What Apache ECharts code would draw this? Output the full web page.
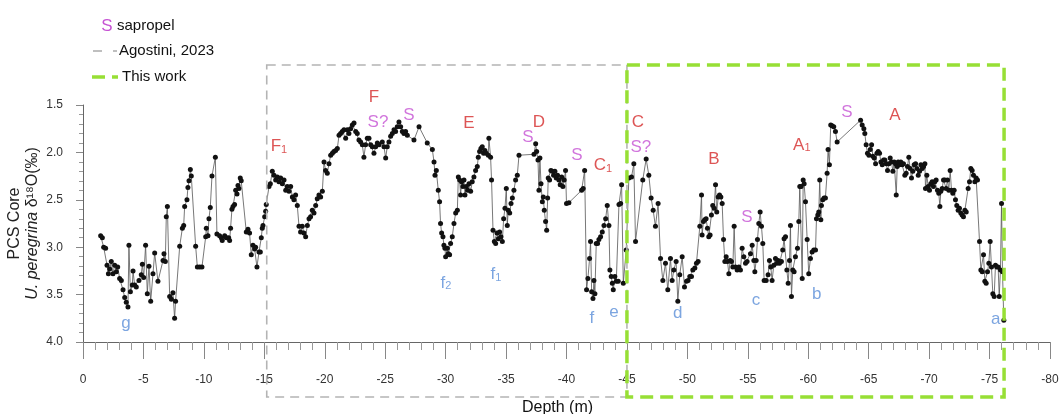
<!DOCTYPE html>
<html>
<head>
    <meta charset="utf-8">
    <title>PCS Core U. peregrina d18O</title>
    <script src="https://cdn.jsdelivr.net/npm/echarts@6/dist/echarts.min.js"></script>
    <style>
        html, body { margin: 0; padding: 0; background: #fff; }
        #main { width: 1061px; height: 414px; }
    </style>
</head>
<body>
<div id="main"></div>
<script>
    // depth (m, negative downwards) and d18O (permil)
    var depth = [
        -1.46, -1.60, -1.71, -1.87, -1.99, -2.10, -2.21, -2.34, -2.48, -2.62, -2.76, -2.87, -3.03, -3.17, -3.31, -3.45,
        -3.58, -3.72, -3.80, -3.92, -4.08, -4.14, -4.27, -4.41, -4.63, -4.82, -4.91, -5.02, -5.18, -5.32, -5.46, -5.60,
        -5.79, -5.93, -6.20, -6.62, -6.70, -6.81, -6.89, -6.98, -7.17, -7.31, -7.44, -7.58, -7.66, -8.00, -8.22, -8.33,
        -8.41, -8.60, -8.68, -8.77, -8.88, -8.96, -9.32, -9.46, -9.65, -9.84, -10.15, -10.20, -10.34, -10.42, -10.53, -10.67,
        -10.95, -11.08, -11.30, -11.44, -11.52, -11.72, -11.86, -12.05, -12.13, -12.21, -12.32, -12.41, -12.54, -12.63, -12.74, -12.82,
        -12.90, -13.01, -13.09, -13.51, -13.65, -13.78, -13.92, -14.06, -14.20, -14.28, -14.39, -14.56, -14.67, -14.75, -14.83, -14.89,
        -15.03, -15.11, -15.16,
        -15.39, -15.50, -15.66, -15.80, -15.94, -16.08, -16.21, -16.35, -16.49, -16.63, -16.77, -16.90, -17.04, -17.18, -17.32, -17.45,
        -17.59, -17.73, -17.87, -18.00, -18.14, -18.28, -18.42, -18.56, -18.70, -18.83, -18.97, -19.11, -19.25, -19.38, -19.52, -19.66,
        -19.80, -19.94, -20.07, -20.21, -20.35, -20.49, -20.63, -20.76, -20.90, -21.04, -21.18, -21.31, -21.45, -21.59, -21.73, -21.87,
        -22.00, -22.14, -22.28, -22.42, -22.56, -22.69, -22.83, -22.97, -23.11, -23.24, -23.38, -23.52, -23.66, -23.80, -23.93, -24.07,
        -24.21, -24.35, -24.49, -24.76, -24.90, -25.04, -25.17, -25.31, -25.45, -25.59, -25.73, -25.86, -26.00, -26.14, -26.28, -26.42,
        -26.55, -26.69, -26.83, -27.38, -27.80, -28.48, -28.90, -29.04, -29.12, -29.23, -29.39, -29.50, -29.58, -29.67, -29.78, -29.86,
        -29.94,
        -30.00, -30.14, -30.22, -30.33, -30.41, -30.55, -30.69, -30.83, -30.97, -31.05, -31.16, -31.24, -31.32, -31.43, -31.52, -31.60,
        -31.71, -31.82, -31.93, -32.07, -32.20, -32.34, -32.48, -32.62, -32.70, -32.81, -32.92, -33.03, -33.14, -33.25, -33.36, -33.53,
        -33.58, -33.72, -33.80, -33.92, -34.03, -34.14, -34.25, -34.36, -34.47, -34.58, -34.69, -34.80, -34.91, -35.02, -35.10, -35.18,
        -35.30, -35.41, -35.52, -35.65, -35.79, -35.93, -36.07, -37.31, -37.45, -37.53, -37.64, -37.72, -37.80, -37.89, -38.00, -38.08,
        -38.16, -38.27, -38.36, -38.44, -38.49, -38.60, -38.71, -38.82, -38.93, -39.04, -39.15, -39.26, -39.37, -39.48, -39.60, -39.70,
        -39.81, -39.92, -40.00, -40.20, -41.25, -41.38, -41.50, -41.66, -41.77, -41.91, -41.99, -42.08, -42.19, -42.27, -42.35, -42.46,
        -42.57, -42.68, -42.82, -42.96, -43.10, -43.24, -43.37, -43.51, -43.59, -43.70, -43.79, -43.87, -44.00, -44.12, -44.28, -44.34,
        -44.48, -44.56, -44.70,
        -44.94, -45.16, -45.38, -45.57, -45.71, -46.31, -46.59, -46.81, -47.00, -47.17, -47.36, -47.58, -47.78, -47.97, -48.19, -48.38,
        -48.60, -48.74, -48.88, -49.07, -49.21, -49.37, -49.57, -49.76, -49.93, -50.06, -50.20, -50.34, -50.45, -50.62, -50.75, -50.89,
        -51.03, -51.17, -51.22, -51.33, -51.44, -51.55, -51.66, -51.77, -51.88, -51.99, -52.10, -52.21, -52.33, -52.43, -52.55, -52.66,
        -52.77, -52.88, -52.99, -53.10, -53.21, -53.32, -53.43, -53.54, -53.65, -53.76, -53.87, -53.98, -54.12, -54.26, -54.39, -54.53,
        -54.67, -54.81, -54.94, -55.22, -55.36, -55.50, -55.58, -55.69, -55.80, -55.91, -56.02, -56.13, -56.24, -56.35, -56.52, -56.68,
        -56.79, -56.90, -57.01, -57.15, -57.29, -57.40, -57.51, -57.62, -57.78, -57.89, -58.00, -58.12, -58.23, -58.34, -58.45, -58.53,
        -58.61, -58.72, -58.83, -58.94, -59.11, -59.22, -59.30, -59.41, -59.50, -59.58, -59.66, -59.77, -59.91, -60.04, -60.18, -60.32,
        -60.46, -60.60, -60.68, -60.79, -60.87, -60.95, -61.04, -61.09, -61.20, -61.31, -61.42, -61.56, -61.64, -61.75, -61.86, -61.97,
        -62.11, -62.25, -62.39,
        -64.33, -64.46, -64.60, -64.68, -64.79, -64.90, -65.02, -65.13, -65.24, -65.35, -65.46, -65.57, -65.68, -65.79, -65.90, -66.01,
        -66.12, -66.23, -66.34, -66.45, -66.56, -66.67, -66.78, -66.89, -67.00, -67.11, -67.22, -67.28, -67.36, -67.44, -67.55, -67.66,
        -67.77, -67.88, -67.99, -68.10, -68.21, -68.32, -68.43, -68.54, -68.65, -68.76, -68.88, -68.99, -69.10, -69.21, -69.32, -69.43,
        -69.54, -69.65, -69.70, -69.81, -69.92, -70.03, -70.14, -70.25, -70.36, -70.47, -70.58, -70.69, -70.80, -70.89, -70.97, -71.08,
        -71.19, -71.30, -71.41, -71.52, -71.63, -71.74, -71.85, -71.96, -72.07, -72.18, -72.29, -72.40, -72.51, -72.62, -72.73, -72.84,
        -72.96, -73.07, -73.23, -73.34, -73.45, -73.56, -73.67, -73.78, -73.89, -74.00, -74.17, -74.28, -74.39, -74.50, -74.61, -74.72,
        -74.83, -74.94, -75.05, -75.16, -75.27, -75.38, -75.49, -75.60, -75.71, -75.80, -75.90, -75.99, -76.07, -76.18
    ];
    var d18O = [
        2.88, 2.90, 3.00, 3.01, 3.19, 3.28, 3.23, 3.15, 3.28, 3.19, 3.26, 3.21, 3.33, 3.35, 3.45, 3.53,
        3.58, 3.63, 2.98, 3.47, 3.40, 3.25, 3.40, 3.42, 3.35, 3.29, 3.18, 3.32, 2.98, 3.49, 3.20, 3.57,
        3.28, 3.06, 3.36, 3.14, 3.07, 3.15, 2.68, 2.57, 3.52, 3.55, 3.48, 3.75, 3.57, 2.99, 2.80, 2.77,
        2.57, 2.50, 2.37, 2.30, 2.18, 2.25, 2.99, 3.21, 3.21, 3.21, 2.89, 2.80, 2.88, 2.70, 2.58, 2.25,
        2.05, 2.86, 2.88, 2.90, 2.93, 2.88, 2.90, 2.90, 2.93, 2.80, 2.60, 2.57, 2.55, 2.40, 2.44, 2.35,
        2.38, 2.27, 2.30, 2.84, 2.81, 2.85, 3.08, 2.98, 3.02, 3.00, 3.21, 3.05, 3.05, 2.90, 2.80, 2.77,
        2.68, 2.62, 2.55,
        2.36, 2.33, 2.20, 2.24, 2.29, 2.26, 2.31, 2.27, 2.33, 2.29, 2.40, 2.36, 2.41, 2.36, 2.47, 2.50,
        2.45, 2.56, 2.78, 2.84, 2.78, 2.85, 2.89, 2.77, 2.70, 2.68, 2.61, 2.64, 2.56, 2.49, 2.45, 2.47,
        2.41, 2.10, 2.19, 2.22, 2.12, 2.03, 2.01, 1.99, 1.98, 1.96, 1.82, 1.80, 1.78, 1.76, 1.85, 1.76,
        1.80, 1.75, 1.71, 1.69, 1.78, 1.80, 1.87, 1.89, 1.92, 2.05, 1.92, 1.85, 1.85, 1.92, 1.94, 2.01,
        1.94, 1.90, 1.92, 1.89, 1.94, 2.06, 1.94, 1.89, 1.83, 1.80, 1.76, 1.78, 1.73, 1.68, 1.73, 1.78,
        1.80, 1.78, 1.82, 1.87, 1.73, 1.90, 1.97, 2.10, 2.24, 2.19, 2.40, 2.52, 2.75, 2.85, 2.89, 2.98,
        3.01,
        3.10, 3.01, 3.07, 3.08, 2.96, 2.89, 2.75, 2.64, 2.61, 2.26, 2.29, 2.45, 2.31, 2.36, 2.29, 2.45,
        2.36, 2.40, 2.33, 2.41, 2.31, 2.26, 2.19, 2.15, 2.05, 1.99, 1.96, 1.94, 2.01, 1.98, 2.01, 2.03,
        1.85, 2.05, 2.29, 2.82, 2.94, 2.96, 2.85, 2.91, 2.84, 2.89, 2.94, 2.70, 2.59, 2.38, 2.77, 2.61,
        2.64, 2.54, 2.48, 2.40, 2.29, 2.24, 2.03, 2.02, 1.91, 1.99, 2.08, 2.40, 2.06, 2.33, 2.52, 2.47,
        2.61, 2.73, 2.82, 2.48, 2.27, 2.29, 2.19, 2.20, 2.24, 2.20, 2.27, 2.24, 2.29, 2.34, 2.26, 2.36,
        2.29, 2.19, 2.54, 2.53, 2.40, 2.38, 2.19, 3.45, 3.33, 3.12, 2.94, 3.47, 3.54, 3.35, 3.49, 2.96,
        2.96, 2.92, 2.89, 2.84, 2.77, 2.70, 2.56, 2.77, 3.24, 3.31, 3.38, 3.45, 3.31, 3.36, 3.36, 2.55,
        2.54, 2.34, 3.38,
        3.03, 2.27, 2.26, 2.12, 2.94, 2.29, 2.07, 2.24, 2.48, 2.61, 2.78, 2.54, 3.12, 3.35, 3.17, 3.45,
        3.12, 3.35, 3.24, 3.15, 3.57, 3.29, 3.10, 3.42, 3.36, 3.35, 3.31, 3.31, 3.24, 3.22, 3.17, 3.15,
        2.78, 2.45, 2.87, 2.73, 2.71, 2.70, 2.80, 2.89, 2.87, 2.66, 2.56, 2.59, 2.34, 2.63, 2.47, 2.45,
        2.47, 2.54, 2.92, 3.15, 3.10, 3.15, 3.28, 3.14, 3.15, 3.21, 2.78, 3.21, 3.24, 3.21, 3.24, 3.01,
        3.10, 3.17, 3.15, 3.07, 2.98, 3.14, 3.26, 3.14, 2.92, 2.75, 2.63, 2.78, 2.96, 3.35, 3.35, 3.29,
        3.14, 3.21, 3.35, 3.19, 3.12, 3.17, 3.14, 3.17, 3.15, 3.03, 2.91, 2.89, 3.24, 3.38, 3.14, 2.77,
        3.52, 3.24, 3.26, 3.10, 3.01, 2.73, 2.36, 2.36, 3.33, 2.29, 2.33, 2.52, 2.92, 3.28, 3.12, 3.05,
        3.03, 3.03, 2.70, 2.66, 2.63, 2.29, 2.71, 2.56, 2.50, 2.48, 2.48, 2.22, 1.97, 2.13, 1.71, 1.72,
        1.73, 1.78, 1.89,
        1.66, 1.71, 1.75, 1.80, 1.92, 2.01, 2.03, 1.97, 1.92, 2.04, 2.06, 2.12, 2.01, 1.99, 2.01, 2.10,
        2.13, 2.08, 2.08, 2.12, 2.19, 2.12, 2.06, 2.10, 2.20, 2.10, 2.12, 2.45, 2.15, 2.10, 2.13, 2.10,
        2.13, 2.12, 2.24, 2.22, 2.15, 2.05, 2.17, 2.27, 2.20, 2.13, 2.12, 2.17, 2.24, 2.20, 2.13, 2.17,
        2.15, 2.12, 2.38, 2.24, 2.36, 2.40, 2.33, 2.31, 2.36, 2.31, 2.29, 2.40, 2.43, 2.57, 2.41, 2.38,
        2.29, 2.29, 2.38, 2.29, 2.40, 2.19, 2.40, 2.43, 2.40, 2.50, 2.56, 2.61, 2.59, 2.64, 2.66, 2.68,
        2.61, 2.63, 2.38, 2.31, 2.17, 2.19, 2.24, 2.31, 2.27, 2.29, 2.94, 3.24, 3.26, 3.08, 3.36, 3.38,
        3.26, 3.17, 2.94, 3.21, 3.49, 3.52, 3.19, 3.21, 3.21, 3.52, 3.24, 2.54, 3.26, 3.77
    ];

    // stage / sapropel / minimum annotations
    var annoText  = ['F', 'F', 'S?', 'S', 'E', 'S', 'D', 'S', 'C', 'C', 'S?', 'B', 'S', 'A', 'S', 'A',
                     'g', 'f', 'f', 'f', 'e', 'd', 'c', 'b', 'a'];
    var annoSub   = ['1', '', '', '', '', '', '', '', '1', '', '', '', '', '1', '', '',
                     '', '2', '1', '', '', '', '', '', ''];
    var annoDepth = [-16.21, -24.07, -24.40, -26.96, -31.93, -36.81, -37.72, -40.86, -43.01, -45.91, -46.15, -52.19, -54.92, -59.47, -63.19, -67.16,
                     -3.56, -30.02, -34.16, -42.10, -43.92, -49.21, -55.67, -60.71, -75.52];
    var annoValue = [1.94, 1.42, 1.68, 1.61, 1.69, 1.84, 1.68, 2.03, 2.14, 1.68, 1.95, 2.07, 2.68, 1.92, 1.58, 1.61,
                     3.80, 3.38, 3.29, 3.75, 3.69, 3.70, 3.56, 3.50, 3.76];
    var annoKind  = ['stage', 'stage', 'sap', 'sap', 'stage', 'sap', 'stage', 'sap', 'stage', 'stage', 'sap', 'stage', 'sap', 'stage', 'sap', 'stage',
                     'min', 'min', 'min', 'min', 'min', 'min', 'min', 'min', 'min'];

    // depth extent of the two studied intervals
    var agostiniRange = [-15.2, -45];
    var thisWorkRange = [-45, -76.2];

    var kindColor = {stage: '#d42b2b', sap: '#c653d3', min: '#5b8fd8'};
    var FONT = '"Liberation Sans", Arial, sans-serif';

    var myChart = echarts.init(document.getElementById('main'));

    var points = depth.map(function (d, i) { return [d, d18O[i]]; });
    var annoData = annoText.map(function (t, i) {
        return {
            value: [annoDepth[i], annoValue[i]],
            label: {color: kindColor[annoKind[i]]}
        };
    });

    var option = {
        animation: false,
        backgroundColor: '#fff',
        grid: {left: 83, right: 11, top: 105, bottom: 72, outerBoundsMode: 'none', containLabel: false},
        xAxis: {
            type: 'value',
            min: -80,
            max: 0,
            interval: 5,
            inverse: true,
            name: 'Depth (m)',
            nameLocation: 'middle',
            nameGap: 58,
            nameMoveOverlap: false,
            nameTextStyle: {fontFamily: FONT, fontSize: 16, color: '#111', padding: [0, 18, 0, 0]},
            axisLine: {lineStyle: {color: '#666', width: 1}},
            axisTick: {inside: false, length: 17, lineStyle: {color: '#888'}},
            minorTick: {show: true, splitNumber: 5, length: 8, lineStyle: {color: '#999'}},
            axisLabel: {margin: 32, fontFamily: FONT, fontSize: 12, color: '#333'},
            splitLine: {show: false}
        },
        yAxis: {
            type: 'value',
            min: 1.5,
            max: 4.0,
            interval: 0.5,
            inverse: true,
            name: 'PCS Core\n{it|U. peregrina} δ¹⁸O(‰)',
            nameLocation: 'middle',
            nameRotate: 90,
            nameGap: 41,
            nameMoveOverlap: false,
            nameTextStyle: {
                fontFamily: FONT, fontSize: 16, color: '#222', lineHeight: 18,
                rich: {it: {fontFamily: FONT, fontSize: 16, fontStyle: 'italic', color: '#222', lineHeight: 18}}
            },
            axisLine: {show: true, lineStyle: {color: '#666', width: 1}},
            axisTick: {show: true, inside: false, length: 7, lineStyle: {color: '#888'}},
            minorTick: {show: true, splitNumber: 5, length: 4, lineStyle: {color: '#999'}},
            axisLabel: {
                margin: 20, fontFamily: FONT, fontSize: 12, color: '#333',
                formatter: function (v) { return v.toFixed(1); }
            },
            splitLine: {show: false}
        },
        series: [
            {
                name: 'd18O',
                type: 'line',
                data: points,
                symbol: 'circle',
                symbolSize: 5,
                showAllSymbol: true,
                itemStyle: {color: '#111'},
                lineStyle: {color: '#555', width: 0.8},
                z: 3
            },
            {
                name: 'notes',
                type: 'scatter',
                data: annoData,
                symbolSize: 1,
                itemStyle: {color: 'rgba(0,0,0,0)'},
                clip: false,
                silent: true,
                z: 5,
                label: {
                    show: true,
                    position: 'inside',
                    fontFamily: FONT,
                    fontSize: 17,
                    formatter: function (p) {
                        var i = p.dataIndex;
                        return annoSub[i] ? annoText[i] + '{s|' + annoSub[i] + '}' : annoText[i];
                    },
                    rich: {s: {fontFamily: FONT, fontSize: 11, verticalAlign: 'bottom', padding: [6, 0, 0, 0]}}
                }
            }
        ]
    };
    myChart.setOption(option);

    // dashed boxes for the two studied intervals, plus the legend
    var ag0 = myChart.convertToPixel({xAxisIndex: 0}, agostiniRange[0]);
    var ag1 = myChart.convertToPixel({xAxisIndex: 0}, agostiniRange[1]);
    var tw0 = myChart.convertToPixel({xAxisIndex: 0}, thisWorkRange[0]);
    var tw1 = myChart.convertToPixel({xAxisIndex: 0}, thisWorkRange[1]);
    var boxTop = 65, boxBottom = 397;

    myChart.setOption({
        graphic: [
            {
                type: 'rect', z: 10, silent: true,
                shape: {x: ag0, y: boxTop, width: ag1 - ag0, height: boxBottom - boxTop},
                style: {fill: 'none', stroke: '#b4b4b4', lineWidth: 1.6, lineDash: [9, 6]}
            },
            {
                type: 'rect', z: 11, silent: true,
                shape: {x: tw0, y: boxTop, width: tw1 - tw0, height: boxBottom - boxTop},
                style: {fill: 'none', stroke: '#97df35', lineWidth: 3.5, lineDash: [13, 7]}
            },
            // legend
            {type: 'text', z: 12, style: {x: 107, y: 26, text: 'S', fill: kindColor.sap, font: '17px ' + FONT, align: 'center', verticalAlign: 'middle'}},
            {type: 'text', z: 12, style: {x: 117, y: 26, text: 'sapropel', fill: '#111', font: '15px ' + FONT, verticalAlign: 'middle'}},
            {type: 'line', z: 12, shape: {x1: 93, y1: 51, x2: 102, y2: 51}, style: {stroke: '#aaa', lineWidth: 1.5}},
            {type: 'line', z: 12, shape: {x1: 113, y1: 51, x2: 117, y2: 51}, style: {stroke: '#aaa', lineWidth: 1.5}},
            {type: 'text', z: 12, style: {x: 119, y: 51, text: 'Agostini, 2023', fill: '#111', font: '15px ' + FONT, verticalAlign: 'middle'}},
            {type: 'line', z: 12, shape: {x1: 92, y1: 77, x2: 105, y2: 77}, style: {stroke: '#97df35', lineWidth: 3.5}},
            {type: 'line', z: 12, shape: {x1: 112, y1: 77, x2: 118, y2: 77}, style: {stroke: '#97df35', lineWidth: 3.5}},
            {type: 'text', z: 12, style: {x: 122, y: 77, text: 'This work', fill: '#111', font: '15px ' + FONT, verticalAlign: 'middle'}}
        ]
    });
</script>
</body>
</html>
